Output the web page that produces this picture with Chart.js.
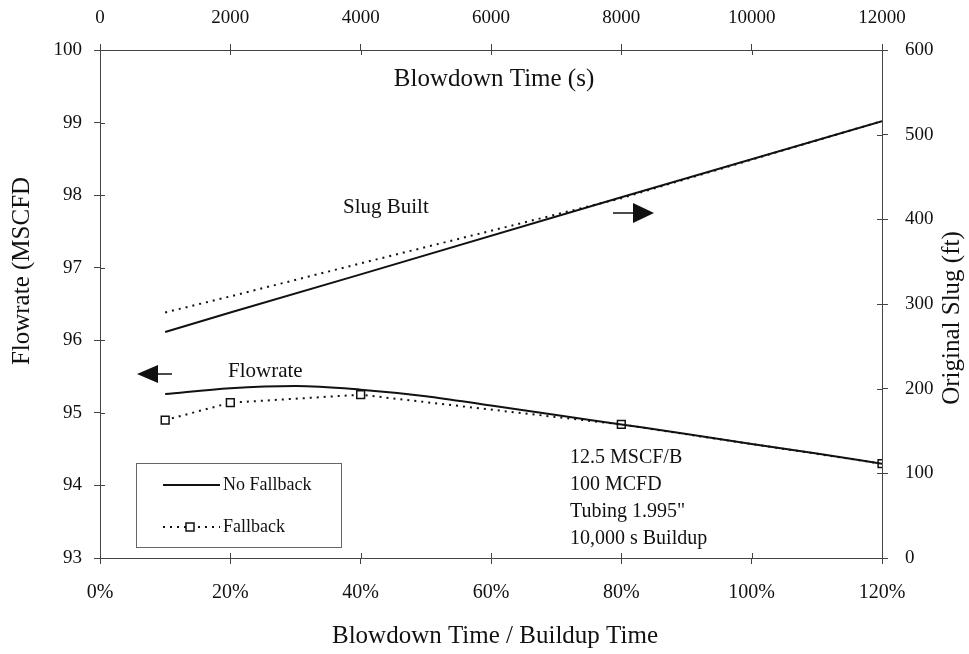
<!DOCTYPE html>
<html><head><meta charset="utf-8">
<script src="https://cdn.jsdelivr.net/npm/chart.js@4"></script>
<style>html,body{margin:0;padding:0;background:#fff}#wrap{width:969px;height:654px}</style>
</head><body><div id="wrap"><canvas id="c" width="969" height="654"></canvas></div>
<script>
// ---- data ----
const ratioPct = [10,20,30,40,50,60,70,80,90,100,110,120];
const flowNoFallback = [95.26,95.34,95.37,95.32,95.23,95.10,94.97,94.84,94.71,94.57,94.44,94.30];
const fallbackPct = [10,20,40,80,120];
const flowFallback = [94.90,95.14,95.25,94.84,94.30];
const slugPct = [10,20,40,80,120];
const slugNoFallback = [267,290,335,426,516];
const slugFallback = [290,309,348,425,516];
const bottomTickLabels = ['0%','20%','40%','60%','80%','100%','120%'];
const topTickLabels = ['0','2000','4000','6000','8000','10000','12000'];
const seriesNames = ['No Fallback','Fallback'];
const noteLines = ['12.5 MSCF/B','100 MCFD','Tubing 1.995"','10,000 s Buildup'];

const FONT = "'Liberation Serif','Times New Roman',serif";
Chart.defaults.font.family = FONT;
Chart.defaults.color = '#111';

const pts = (xs, ys) => xs.map((x,i)=>({x:x, y:ys[i]}));

const innerTicks = {
  id:'innerTicks',
  afterDraw(chart){
    const ctx = chart.ctx, a = chart.chartArea;
    ctx.save(); ctx.strokeStyle = '#444'; ctx.lineWidth = 1;
    const L = 5;
    const sx = chart.scales.x, sx2 = chart.scales.x2, sy = chart.scales.y, sy2 = chart.scales.y2;
    ctx.beginPath();
    sx.ticks.forEach(t=>{const p=Math.round(sx.getPixelForValue(t.value))+0.5; ctx.moveTo(p,a.bottom); ctx.lineTo(p,a.bottom-L);});
    sx2.ticks.forEach(t=>{const p=Math.round(sx2.getPixelForValue(t.value))+0.5; ctx.moveTo(p,a.top); ctx.lineTo(p,a.top+L);});
    sy.ticks.forEach(t=>{const p=Math.round(sy.getPixelForValue(t.value))+0.5; ctx.moveTo(a.left,p); ctx.lineTo(a.left+L,p);});
    sy2.ticks.forEach(t=>{const p=Math.round(sy2.getPixelForValue(t.value))+0.5; ctx.moveTo(a.right,p); ctx.lineTo(a.right-L,p);});
    ctx.stroke(); ctx.restore();
  }
};

const annotations = {
  id:'annotations',
  afterDraw(chart){
    const ctx = chart.ctx;
    ctx.save();
    ctx.fillStyle = '#111'; ctx.strokeStyle = '#111';
    // axis titles
    ctx.font = '25px ' + FONT;
    ctx.textAlign = 'center'; ctx.textBaseline = 'middle';
    ctx.fillText('Blowdown Time (s)', 494, 79);
    ctx.fillText('Blowdown Time / Buildup Time', 495, 636);
    ctx.save(); ctx.translate(22, 271); ctx.rotate(-Math.PI/2);
    ctx.fillText('Flowrate (MSCFD', 0, 0); ctx.restore();
    ctx.save(); ctx.translate(952, 318); ctx.rotate(-Math.PI/2);
    ctx.fillText('Original Slug (ft)', 0, 0); ctx.restore();

    // labels with arrows
    ctx.font = '21px ' + FONT; ctx.textAlign = 'left';
    ctx.fillText('Slug Built', 343, 207);
    ctx.fillText('Flowrate', 228, 371);
    ctx.lineWidth = 1.5;
    ctx.beginPath(); ctx.moveTo(613, 213); ctx.lineTo(636, 213); ctx.stroke();
    ctx.beginPath(); ctx.moveTo(633, 203); ctx.lineTo(654, 213); ctx.lineTo(633, 223); ctx.closePath(); ctx.fill();
    ctx.beginPath(); ctx.moveTo(155, 374); ctx.lineTo(172, 374); ctx.stroke();
    ctx.beginPath(); ctx.moveTo(158, 365); ctx.lineTo(137, 374); ctx.lineTo(158, 383); ctx.closePath(); ctx.fill();

    // note block
    ctx.font = '20px ' + FONT;
    noteLines.forEach((s,i)=> ctx.fillText(s, 570, 458 + i*27));

    // legend box
    ctx.strokeStyle = '#666'; ctx.lineWidth = 1;
    ctx.strokeRect(136.5, 463.5, 205, 84);
    ctx.strokeStyle = '#111';
    ctx.lineWidth = 2;
    ctx.beginPath(); ctx.moveTo(163, 485); ctx.lineTo(220, 485); ctx.stroke();
    ctx.setLineDash([2,5]);
    ctx.beginPath(); ctx.moveTo(163, 527); ctx.lineTo(220, 527); ctx.stroke();
    ctx.setLineDash([]);
    ctx.fillStyle = '#fff'; ctx.lineWidth = 1.5;
    ctx.fillRect(186, 523, 8, 8); ctx.strokeRect(186, 523, 8, 8);
    ctx.fillStyle = '#111';
    ctx.font = '18px ' + FONT;
    ctx.fillText(seriesNames[0], 223, 485);
    ctx.fillText(seriesNames[1], 223, 527);
    ctx.restore();
  }
};

const axisCommon = {
  grid:{drawOnChartArea:false, drawTicks:true, tickLength:6, color:'#444', lineWidth:1},
  border:{display:true, color:'#444', width:1}
};

new Chart(document.getElementById('c'), {
  type:'scatter',
  data:{datasets:[
    {label:seriesNames[0]+' flow', data:pts(ratioPct, flowNoFallback), xAxisID:'x', yAxisID:'y', showLine:true,
     borderColor:'#111', borderWidth:2, pointRadius:0, cubicInterpolationMode:'monotone'},
    {label:seriesNames[1]+' flow', data:pts(fallbackPct, flowFallback), xAxisID:'x', yAxisID:'y', showLine:true,
     borderColor:'#111', borderWidth:2, borderDash:[2,5], pointStyle:'rect', pointRadius:5.5,
     pointBackgroundColor:'#fff', pointBorderColor:'#111', pointBorderWidth:1.5},
    {label:seriesNames[0]+' slug', data:pts(slugPct, slugNoFallback), xAxisID:'x', yAxisID:'y2', showLine:true,
     borderColor:'#111', borderWidth:2, pointRadius:0},
    {label:seriesNames[1]+' slug', data:pts(slugPct, slugFallback), xAxisID:'x', yAxisID:'y2', showLine:true,
     borderColor:'#111', borderWidth:2, borderDash:[2,5], pointRadius:0}
  ]},
  options:{
    responsive:false, animation:false, devicePixelRatio:1,
    layout:{padding:0},
    plugins:{legend:{display:false}, tooltip:{enabled:false}},
    scales:{
      x:{type:'linear', position:'bottom', min:0, max:120, ...axisCommon,
         ticks:{stepSize:20, autoSkip:false, maxRotation:0, padding:17, font:{size:20},
                callback:(v)=>bottomTickLabels[Math.round(v/20)]},
         afterFit:(s)=>{s.height=96;}},
      x2:{type:'linear', position:'top', min:0, max:12000, ...axisCommon,
         ticks:{stepSize:2000, autoSkip:false, maxRotation:0, padding:15, font:{size:19},
                callback:(v)=>topTickLabels[Math.round(v/2000)]},
         afterFit:(s)=>{s.height=50;}},
      y:{type:'linear', position:'left', min:93, max:100, ...axisCommon,
         ticks:{stepSize:1, padding:12, font:{size:19}},
         afterFit:(s)=>{s.width=100;}},
      y2:{type:'linear', position:'right', min:0, max:600, ...axisCommon,
         ticks:{stepSize:100, padding:17, font:{size:19}},
         afterFit:(s)=>{s.width=87;}}
    }
  },
  plugins:[innerTicks, annotations]
});
</script></body></html>
